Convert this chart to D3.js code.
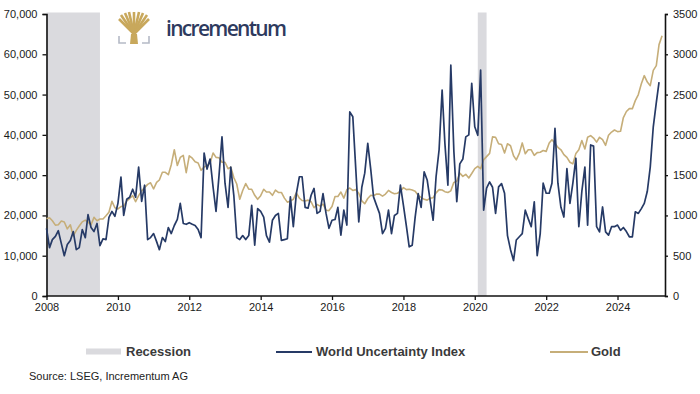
<!DOCTYPE html>
<html>
<head>
<meta charset="utf-8">
<script src="https://d3js.org/d3.v7.min.js"></script>
<style>
  body { margin: 0; background: white; }
  svg { display: block; font-family: "Liberation Sans", Arial, sans-serif; }
</style>
</head>
<body>
<svg id="chart" width="700" height="394"></svg>
<script>
// World Uncertainty Index, monthly from Jan 2008 (left axis)
var wui = [
  16800, 12000, 14000, 14800, 16200, 13000, 10000, 12800, 13800, 16000, 11500, 12000,
  16500, 14500, 20200, 17000, 16000, 18000, 12500, 14200, 14000, 19500, 21000, 19800,
  23000, 29500, 20000, 24000, 24500, 26500, 24500, 32000, 23500, 27500, 14000, 14500,
  15500, 13500, 11500, 14500, 13500, 17000, 15500, 17500, 19000, 23000, 18000, 17800,
  18200, 17800, 17500, 16500, 14500, 35500, 31500, 34000, 27000, 21000, 30000, 39500,
  28000, 22000, 32000, 25000, 14500, 14000, 15000, 14000, 15000, 22500, 12600, 21700,
  21000, 19600, 15000, 13400, 18800, 20000, 20500, 13800, 14000, 14200, 24600, 17200,
  25400, 29600, 29600, 22000, 21800, 25000, 26700, 20500, 21000, 25400, 20500, 16800,
  18800, 19000, 22000, 15100, 21300, 17600, 45700, 44500, 31200, 18400, 27000, 30500,
  37900, 31300, 24600, 22500, 20500, 15500, 16800, 21300, 15500, 20000, 20500, 27500,
  22500, 17200, 12200, 12600, 19600, 25400, 22000, 30800, 28800, 23800, 18800, 29600,
  36300, 51100, 38000, 27500, 57300, 36000, 23400, 32800, 34000, 39500, 40000, 52800,
  42000, 39900, 56100, 21300, 26800, 28300, 27000, 20500, 27100, 27900, 25500, 15000,
  11500, 8800, 13900, 14700, 15500, 21300, 19200, 17200, 23400, 10000, 15500, 28000,
  25500, 25500, 28000, 41600, 28000, 22000, 19600, 31600, 23000, 28000, 34200, 17200,
  26000, 32000, 17600, 37500, 37200, 17200, 15900, 22100, 15900, 15100, 17200, 17200,
  17600, 16300, 17000, 16000, 14700, 14700, 20900, 20500, 21700, 23000, 26000, 32000,
  42000, 48000, 53100
];

// Gold price in USD, monthly from Jan 2008 (right axis)
var gold = [
  960, 971, 933, 880, 885, 930, 918, 833, 884, 745, 815, 869,
  920, 942, 916, 884, 976, 934, 955, 955, 996, 1040, 1175, 1095,
  1080, 1110, 1115, 1180, 1210, 1245, 1170, 1245, 1305, 1345, 1385, 1405,
  1330, 1410, 1440, 1535, 1535, 1505, 1630, 1815, 1620, 1720, 1745, 1530,
  1740, 1710, 1665, 1650, 1560, 1600, 1620, 1650, 1775, 1720, 1715, 1660,
  1660, 1580, 1600, 1470, 1390, 1200, 1310, 1395, 1325, 1325, 1250, 1200,
  1245, 1325, 1290, 1290, 1250, 1315, 1285, 1285, 1215, 1165, 1180, 1200,
  1280, 1215, 1185, 1180, 1190, 1170, 1095, 1135, 1115, 1140, 1065, 1060,
  1110, 1235, 1235, 1290, 1215, 1320, 1340, 1310, 1320, 1275, 1180, 1145,
  1210, 1250, 1245, 1265, 1265, 1240, 1265, 1310, 1285, 1270, 1275, 1300,
  1345, 1320, 1325, 1315, 1300, 1250, 1225, 1200, 1190, 1215, 1220, 1280,
  1320, 1315, 1295, 1285, 1305, 1410, 1425, 1525, 1485, 1510, 1465, 1520,
  1580, 1610, 1580, 1690, 1730, 1770, 1975, 1970, 1890, 1880, 1775, 1890,
  1865, 1740, 1690, 1770, 1900, 1765, 1815, 1815, 1745, 1780, 1785, 1805,
  1795, 1900, 1940, 1895, 1845, 1815, 1755, 1720, 1660, 1640, 1770, 1815,
  1930, 1825, 1970, 1990, 1960, 1910, 1970, 1940, 1870, 1995, 2035, 2060,
  2040, 2045, 2215, 2290, 2325, 2325, 2425, 2500, 2635, 2735, 2655, 2610,
  2800, 2860, 3120, 3230
];

var recessionStart = ["2008-01-01", "2020-02-01"];
var recessionEnd = ["2009-07-01", "2020-05-01"];
var leftTicks = [0, 10000, 20000, 30000, 40000, 50000, 60000, 70000];
var rightTicks = [0, 500, 1000, 1500, 2000, 2500, 3000, 3500];

var navy = "#263a66", tan = "#c6ae79";
var plotL = 46.5, plotR = 665, plotT = 14, plotB = 296;
var start = new Date(2008, 0, 1);

var svg = d3.select("#chart");
var x = d3.scaleTime().domain([start, new Date(2025, 4, 1)]).range([plotL, plotR]);
var yL = d3.scaleLinear().domain([0, 70000]).range([plotB, plotT]);
var yR = d3.scaleLinear().domain([0, 3500]).range([plotB, plotT]);
var parse = d3.timeParse("%Y-%m-%d");
function monthDate(i) { return d3.timeMonth.offset(start, i); }

// recession bands
svg.selectAll("rect.rec")
  .data(recessionStart)
  .enter().append("rect")
  .attr("class", "rec")
  .attr("x", function(d) { return x(parse(d)); })
  .attr("width", function(d, i) { return x(parse(recessionEnd[i])) - x(parse(d)); })
  .attr("y", plotT - 1.5)
  .attr("height", plotB - plotT + 1.5)
  .style("fill", "#dadade");

// axes
var axL = svg.append("g").attr("transform", "translate(" + plotL + ",0)")
  .call(d3.axisLeft(yL).tickValues(leftTicks).tickSize(4).tickPadding(5).tickFormat(d3.format(",")));
var axR = svg.append("g").attr("transform", "translate(" + plotR + ",0)")
  .call(d3.axisRight(yR).tickValues(rightTicks).tickSize(3).tickPadding(5).tickFormat(d3.format("d")));
var axB = svg.append("g").attr("transform", "translate(0," + plotB + ")")
  .call(d3.axisBottom(x).ticks(d3.timeYear.every(2)).tickSize(4).tickPadding(3).tickFormat(d3.timeFormat("%Y")));
[axL, axR, axB].forEach(function(a) {
  a.select(".domain").attr("stroke", "#111").attr("stroke-width", 1.6);
  a.selectAll(".tick line").attr("stroke", "#111").attr("stroke-width", 1.3);
  a.selectAll("text").style("font-size", "11px").style("fill", "#1a1a1a");
});
axB.select(".domain").attr("d", "M" + plotL + ",0H" + plotR);

// lines
var lineL = d3.line().x(function(d, i) { return x(monthDate(i)); }).y(function(d) { return yL(d); });
var lineR = d3.line().x(function(d, i) { return x(monthDate(i)); }).y(function(d) { return yR(d); });

svg.append("path").datum(gold).attr("d", lineR)
  .style("fill", "none").style("stroke", tan).style("stroke-width", 1.6).style("stroke-linejoin", "round");
svg.append("path").datum(wui).attr("d", lineL)
  .style("fill", "none").style("stroke", navy).style("stroke-width", 1.7).style("stroke-linejoin", "round");

// logo
var logo = svg.append("g").attr("transform", "translate(118,12)");
var tips = [[1, 7], [3, 3], [7, 1], [11, 0], [16, 0], [21, 0], [25, 1], [29, 3], [31, 7]];
logo.selectAll("line.br")
  .data(tips)
  .enter().append("line")
  .attr("x1", 16).attr("y1", 22)
  .attr("x2", function(d) { return d[0]; })
  .attr("y2", function(d) { return d[1]; })
  .style("stroke", "#c8a85c").style("stroke-width", 2.6);
logo.append("path").attr("d", "M13,22 L19,22 L20,32 L12,32 Z").style("fill", "#c8a85c");
logo.append("path").attr("d", "M1,24 V31 H8 M31,24 V31 H24")
  .style("fill", "none").style("stroke", "#b5bac6").style("stroke-width", 1.6);
svg.append("text").attr("x", 166).attr("y", 36)
  .text("incrementum")
  .attr("textLength", 121)
  .style("font-family", "'Open Sans', sans-serif").style("font-weight", 600)
  .style("font-size", "21px").style("fill", "#2e3a5e");

// legend
var lg = svg.append("g").style("font-size", "13px").style("font-weight", "bold").style("fill", "#3a3a3a");
lg.append("rect").attr("x", 86).attr("y", 348.5).attr("width", 35).attr("height", 6).style("fill", "#dadade");
lg.append("text").attr("x", 126).attr("y", 356).text("Recession");
lg.append("line").attr("x1", 276).attr("x2", 312).attr("y1", 352).attr("y2", 352)
  .style("stroke", navy).style("stroke-width", 2);
lg.append("text").attr("x", 316).attr("y", 356).text("World Uncertainty Index");
lg.append("line").attr("x1", 550).attr("x2", 588).attr("y1", 352).attr("y2", 352)
  .style("stroke", tan).style("stroke-width", 2);
lg.append("text").attr("x", 591).attr("y", 356).text("Gold");

svg.append("text").attr("x", 29).attr("y", 380)
  .text("Source: LSEG, Incrementum AG")
  .style("font-size", "11px").style("fill", "#222");
</script>
</body>
</html>
